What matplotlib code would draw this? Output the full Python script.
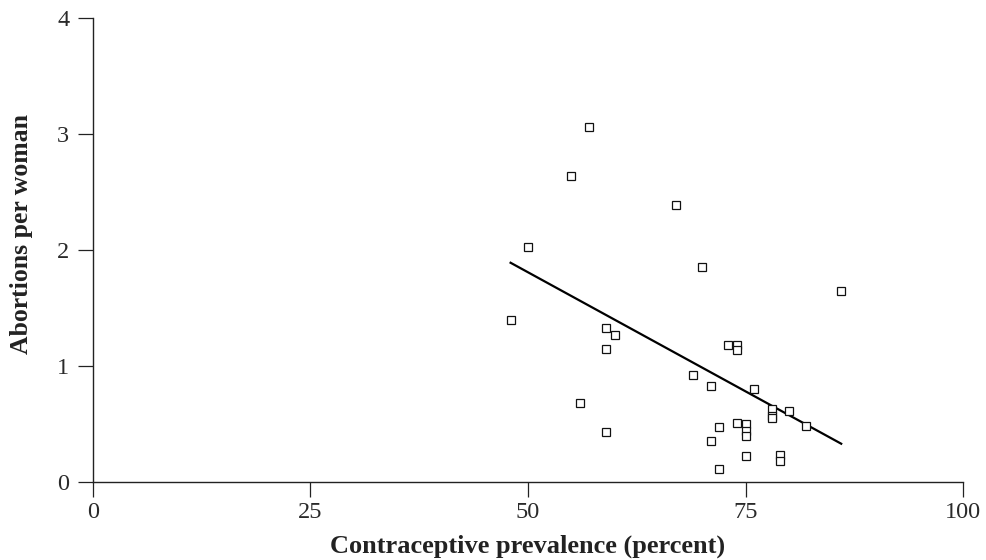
import matplotlib
matplotlib.use("Agg")
import matplotlib.pyplot as plt

prevalence = [48, 59, 60, 59, 56, 59, 69, 71, 73, 74, 74, 76, 78, 78, 78, 80, 82,
              74, 75, 75, 75, 72, 71, 75, 79, 79, 72, 86, 57, 55, 67, 50, 70]
abortions = [1.40, 1.33, 1.27, 1.15, 0.68, 0.43, 0.92, 0.83, 1.18, 1.18, 1.14, 0.80,
             0.63, 0.57, 0.55, 0.61, 0.48, 0.51, 0.50, 0.44, 0.40, 0.47, 0.35, 0.22,
             0.23, 0.18, 0.11, 1.65, 3.06, 2.64, 2.39, 2.03, 1.85]
fit_x = [48, 86]
fit_y = [1.89, 0.33]
x_ticks = [0, 25, 50, 75, 100]
y_ticks = [0, 1, 2, 3, 4]

plt.rcParams['font.family'] = ['Liberation Serif', 'DejaVu Serif']

fig = plt.figure(figsize=(9.87, 5.60), dpi=100)
ax = fig.add_axes([93/987, 1-482/560, 870/987, 464/560])

ax.plot(prevalence, abortions, linestyle='none', marker='s', markersize=6.3,
        markerfacecolor='white', markeredgecolor='#111111', markeredgewidth=0.9,
        zorder=3)
ax.plot(fit_x, fit_y, color='black', linewidth=1.6, zorder=2)

ax.set_xlim(0, 100)
ax.set_ylim(0, 4)
ax.set_xticks(x_ticks)
ax.set_yticks(y_ticks)
ax.spines['top'].set_visible(False)
ax.spines['right'].set_visible(False)
for s in ('left', 'bottom'):
    ax.spines[s].set_linewidth(1.0)
    ax.spines[s].set_color('#222222')
ax.tick_params(direction='out', length=10.5, width=0.9, color='#222222',
               labelsize=17.5, labelcolor='#2a2a2a')
ax.tick_params(axis='x', pad=4)
ax.tick_params(axis='y', pad=6.5)
ax.set_xlabel('Contraceptive prevalence (percent)', fontsize=19,
              fontweight='bold', color='#222222', va='baseline')
ax.xaxis.set_label_coords(0.5, (482 - 553) / 464)
ax.set_ylabel('Abortions per woman', fontsize=18.5, fontweight='bold',
              color='#222222', ha='center', va='center')
ax.yaxis.set_label_coords((22 - 93) / 870, (482 - 234) / 464)

fig.savefig('out.png', dpi=100)
